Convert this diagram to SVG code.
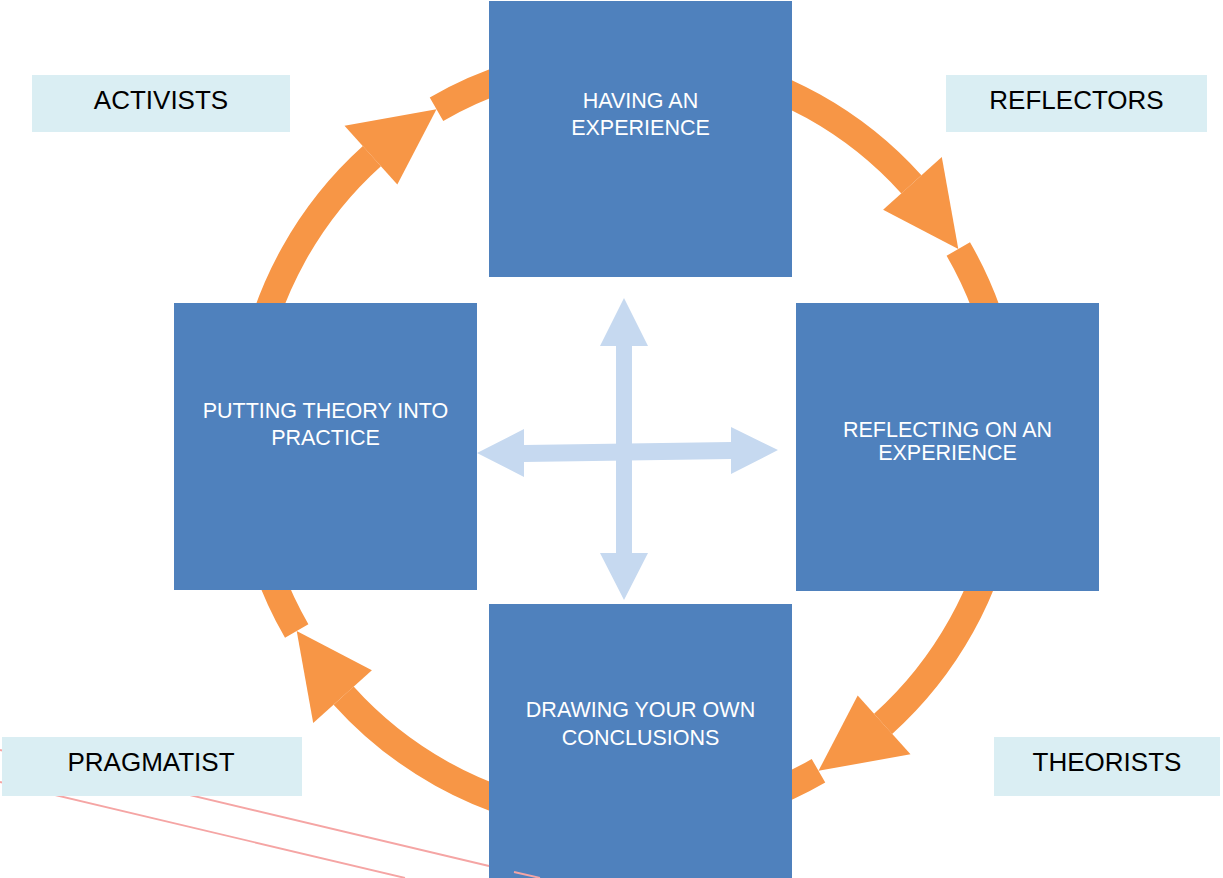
<svg xmlns="http://www.w3.org/2000/svg" width="1223" height="878" viewBox="0 0 1223 878">
<style>
.ring{fill:none;stroke:#F79646;stroke-width:27;stroke-linecap:butt}
.head{fill:#F79646}
.box{fill:#4F81BD}
.btxt{font-family:"Liberation Sans",Arial,sans-serif;font-size:21.5px;fill:#FFFFFF;text-anchor:middle}
.lbl{fill:#DAEEF3}
.ltxt{font-family:"Liberation Sans",Arial,sans-serif;font-size:26px;fill:#000000;text-anchor:middle}
.cross{fill:#C6D9F0}
.pink{stroke:#F5A5A4;stroke-width:1.8;fill:none}
</style>
<rect width="1223" height="878" fill="#FFFFFF"/>
<g id="connectors">
<path class="ring" d="M296.7,631 A382,382 0 0 1 371.9,156.1"/>
<polygon class="head" points="344.5,125.7 436.5,109.2 397.3,184.4"/>
<path class="ring" d="M436.5,109.2 A382,382 0 0 1 911.4,184.4"/>
<polygon class="head" points="941.8,157 958.3,249 883.1,209.8"/>
<path class="ring" d="M958.3,249 A382,382 0 0 1 883.1,723.9"/>
<polygon class="head" points="910.5,754.3 818.5,770.8 857.7,695.6"/>
<path class="ring" d="M818.5,770.8 A382,382 0 0 1 343.6,695.6"/>
<polygon class="head" points="313.2,723 296.7,631 371.9,670.2"/>
</g>
<g id="node-having">
<rect class="box" x="489" y="1" width="303" height="276"/>
<text class="btxt" x="640.5" y="108">HAVING AN</text>
<text class="btxt" x="640.5" y="135">EXPERIENCE</text>
</g>
<g id="node-putting">
<rect class="box" x="174" y="303" width="303" height="287"/>
<text class="btxt" x="325.5" y="418">PUTTING THEORY INTO</text>
<text class="btxt" x="325.5" y="445">PRACTICE</text>
</g>
<g id="node-reflecting">
<rect class="box" x="796" y="303" width="303" height="288"/>
<text class="btxt" x="947.5" y="437">REFLECTING ON AN</text>
<text class="btxt" x="947.5" y="460">EXPERIENCE</text>
</g>
<g id="node-drawing">
<rect class="box" x="489" y="604" width="303" height="274"/>
<text class="btxt" x="640.5" y="717">DRAWING YOUR OWN</text>
<text class="btxt" x="640.5" y="745">CONCLUSIONS</text>
</g>
<g id="cross">
<polygon class="cross" points="477,453 524,429 524,445 731,442 731,427 778,450 731,474 731,459 524,462 524,477"/>
<polygon class="cross" points="624,298 648,346 632,346 632,553 648,553 624,600 600,553 616,553 616,346 600,346"/>
</g>
<g id="pink-lines">
<line class="pink" x1="0" y1="782" x2="405" y2="878"/>
<line class="pink" x1="0" y1="750" x2="489" y2="866"/>
<line class="pink" x1="514" y1="872" x2="540" y2="878"/>
</g>
<g id="label-activists">
<rect class="lbl" x="32" y="75" width="258" height="57"/>
<text class="ltxt" x="161" y="109">ACTIVISTS</text>
</g>
<g id="label-reflectors">
<rect class="lbl" x="946" y="75" width="261" height="57"/>
<text class="ltxt" x="1076.5" y="109">REFLECTORS</text>
</g>
<g id="label-pragmatist">
<rect class="lbl" x="2" y="737" width="300" height="59"/>
<text class="ltxt" x="151" y="771">PRAGMATIST</text>
</g>
<g id="label-theorists">
<rect class="lbl" x="994" y="737" width="226" height="59"/>
<text class="ltxt" x="1107" y="771">THEORISTS</text>
</g>
</svg>
